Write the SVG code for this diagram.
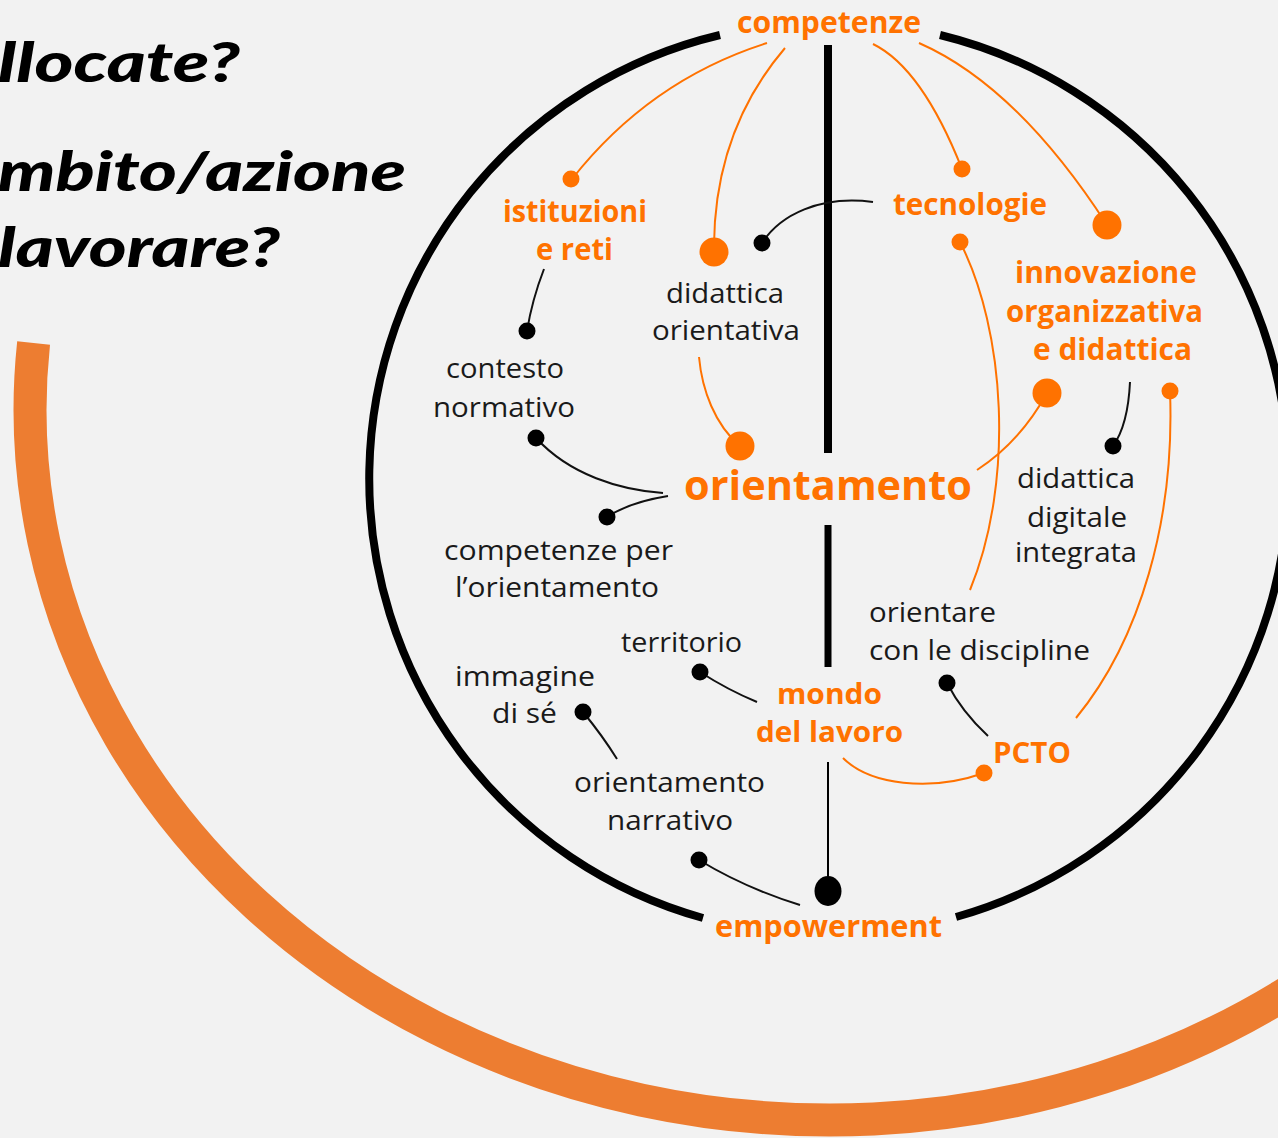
<svg xmlns="http://www.w3.org/2000/svg" width="1278" height="1138" viewBox="0 0 1278 1138">
<style>
.o{font-family:"Open Sans","Liberation Sans",sans-serif;font-weight:700;fill:#ff7200}
.k{font-family:"Open Sans","Liberation Sans",sans-serif;font-weight:400;fill:#1a1a1a;font-size:27px}
.t{font-family:Lato,"Liberation Sans",sans-serif;font-weight:900;font-style:italic;fill:#000;font-size:56px}
.oc{fill:none;stroke:#ff7200;stroke-width:2}
.kc{fill:none;stroke:#111;stroke-width:2}
.od{fill:#ff7200}
.kd{fill:#000}
</style>
<rect x="0" y="0" width="1278" height="1138" fill="#f2f2f2"/>
<g id="title">
<text class="t" x="-2" y="82" textLength="242" lengthAdjust="spacingAndGlyphs">llocate?</text>
<text class="t" x="-2" y="191" textLength="408" lengthAdjust="spacingAndGlyphs">mbito/azione</text>
<text class="t" x="-2" y="267" textLength="282" lengthAdjust="spacingAndGlyphs">lavorare?</text>
</g>
<g id="big-arc">
<path d="M 33.6 343 A 800 710 0 0 0 1300 984.6" fill="none" stroke="#ed7d31" stroke-width="33"/>
</g>
<g id="globe">
<path d="M 720 35 A 456 456 0 0 0 703 918" fill="none" stroke="#000" stroke-width="8"/>
<path d="M 940 35 A 456 456 0 0 1 956 917" fill="none" stroke="#000" stroke-width="8"/>
<line x1="828" y1="45" x2="828" y2="453" stroke="#000" stroke-width="8"/>
<line x1="828" y1="525" x2="828" y2="667" stroke="#000" stroke-width="7"/>
</g>
<g id="connectors">
<path class="oc" d="M 767 43 Q 650 80 572 179"/>
<path class="oc" d="M 785 48 Q 715 130 714 245"/>
<path class="oc" d="M 873 44 Q 922 68 962 169"/>
<path class="oc" d="M 919 43 Q 1017 86 1107 225"/>
<path class="oc" d="M 960 242 C 1005 330 1015 480 970 590"/>
<path class="oc" d="M 1047 393 Q 1020 442 977 470"/>
<path class="oc" d="M 699 357 C 702 390 715 425 740 446"/>
<path class="oc" d="M 1170 391 C 1175 520 1140 640 1076 718"/>
<path class="oc" d="M 843 758 C 870 785 930 792 984 773"/>
<path class="kc" d="M 873 202 C 820 195 780 215 762 243"/>
<path class="kc" d="M 544 269 Q 532 300 527 331"/>
<path class="kc" d="M 536 438 C 570 475 620 490 663 493"/>
<path class="kc" d="M 668 496 Q 630 502 607 517"/>
<path class="kc" d="M 1130 382 Q 1128 425 1113 446"/>
<path class="kc" d="M 700 672 Q 728 690 757 702"/>
<path class="kc" d="M 583 712 Q 602 735 617 759"/>
<path class="kc" d="M 699 860 Q 745 888 800 905"/>
<path class="kc" d="M 947 683 Q 962 712 988 736"/>
<line x1="828" y1="762" x2="828" y2="885" stroke="#000" stroke-width="2"/>
<circle class="od" cx="571" cy="179" r="8.5"/>
<circle class="od" cx="962" cy="169" r="8.5"/>
<circle class="od" cx="960" cy="242" r="8.5"/>
<circle class="od" cx="1170" cy="391" r="8.5"/>
<circle class="od" cx="984" cy="773" r="8.5"/>
<circle class="od" cx="714" cy="252" r="14.5"/>
<circle class="od" cx="1107" cy="225" r="14.5"/>
<circle class="od" cx="1047" cy="393" r="14.5"/>
<circle class="od" cx="740" cy="446" r="14.5"/>
<circle class="kd" cx="762" cy="243" r="8.5"/>
<circle class="kd" cx="527" cy="331" r="8.5"/>
<circle class="kd" cx="536" cy="438" r="8.5"/>
<circle class="kd" cx="607" cy="517" r="8.5"/>
<circle class="kd" cx="1113" cy="446" r="8.5"/>
<circle class="kd" cx="700" cy="672" r="8.5"/>
<circle class="kd" cx="583" cy="712" r="8.5"/>
<circle class="kd" cx="699" cy="860" r="8.5"/>
<circle class="kd" cx="947" cy="683" r="8.5"/>
<ellipse class="kd" cx="828" cy="891" rx="13.5" ry="15"/>
</g>
<g id="n-competenze"><text class="o" x="737" y="33" font-size="31" textLength="184" lengthAdjust="spacingAndGlyphs">competenze</text></g>
<g id="n-istituzioni"><text class="o" x="503" y="222" font-size="30" textLength="144" lengthAdjust="spacingAndGlyphs">istituzioni</text><text class="o" x="536" y="260" font-size="30" textLength="77" lengthAdjust="spacingAndGlyphs">e reti</text></g>
<g id="n-tecnologie"><text class="o" x="893" y="215" font-size="30" textLength="154" lengthAdjust="spacingAndGlyphs">tecnologie</text></g>
<g id="n-innovazione"><text class="o" x="1015" y="283" font-size="30" textLength="182" lengthAdjust="spacingAndGlyphs">innovazione</text><text class="o" x="1006" y="322" font-size="30" textLength="197" lengthAdjust="spacingAndGlyphs">organizzativa</text><text class="o" x="1033" y="360" font-size="30" textLength="159" lengthAdjust="spacingAndGlyphs">e didattica</text></g>
<g id="n-orientamento"><text class="o" x="684" y="500" font-size="42" textLength="288" lengthAdjust="spacingAndGlyphs">orientamento</text></g>
<g id="n-mondo"><text class="o" x="777" y="704" font-size="29" textLength="105" lengthAdjust="spacingAndGlyphs">mondo</text><text class="o" x="756" y="742" font-size="29" textLength="147" lengthAdjust="spacingAndGlyphs">del lavoro</text></g>
<g id="n-pcto"><text class="o" x="993" y="763" font-size="29" textLength="78" lengthAdjust="spacingAndGlyphs">PCTO</text></g>
<g id="n-empowerment"><text class="o" x="715" y="937" font-size="30" textLength="227" lengthAdjust="spacingAndGlyphs">empowerment</text></g>
<g id="n-didattica-orientativa"><text class="k" x="666" y="303" textLength="118" lengthAdjust="spacingAndGlyphs">didattica</text><text class="k" x="652" y="340" textLength="148" lengthAdjust="spacingAndGlyphs">orientativa</text></g>
<g id="n-contesto"><text class="k" x="446" y="378" textLength="118" lengthAdjust="spacingAndGlyphs">contesto</text><text class="k" x="433" y="417" textLength="142" lengthAdjust="spacingAndGlyphs">normativo</text></g>
<g id="n-competenze-per"><text class="k" x="444" y="560" textLength="229" lengthAdjust="spacingAndGlyphs">competenze per</text><text class="k" x="455" y="597" textLength="204" lengthAdjust="spacingAndGlyphs">l’orientamento</text></g>
<g id="n-ddi"><text class="k" x="1017" y="488" textLength="118" lengthAdjust="spacingAndGlyphs">didattica</text><text class="k" x="1027" y="527" textLength="100" lengthAdjust="spacingAndGlyphs">digitale</text><text class="k" x="1015" y="562" textLength="122" lengthAdjust="spacingAndGlyphs">integrata</text></g>
<g id="n-orientare"><text class="k" x="869" y="622" textLength="127" lengthAdjust="spacingAndGlyphs">orientare</text><text class="k" x="869" y="660" textLength="221" lengthAdjust="spacingAndGlyphs">con le discipline</text></g>
<g id="n-territorio"><text class="k" x="621" y="652" textLength="121" lengthAdjust="spacingAndGlyphs">territorio</text></g>
<g id="n-immagine"><text class="k" x="455" y="686" textLength="140" lengthAdjust="spacingAndGlyphs">immagine</text><text class="k" x="492" y="723" textLength="65" lengthAdjust="spacingAndGlyphs">di sé</text></g>
<g id="n-narrativo"><text class="k" x="574" y="792" textLength="191" lengthAdjust="spacingAndGlyphs">orientamento</text><text class="k" x="607" y="830" textLength="126" lengthAdjust="spacingAndGlyphs">narrativo</text></g>
</svg>
